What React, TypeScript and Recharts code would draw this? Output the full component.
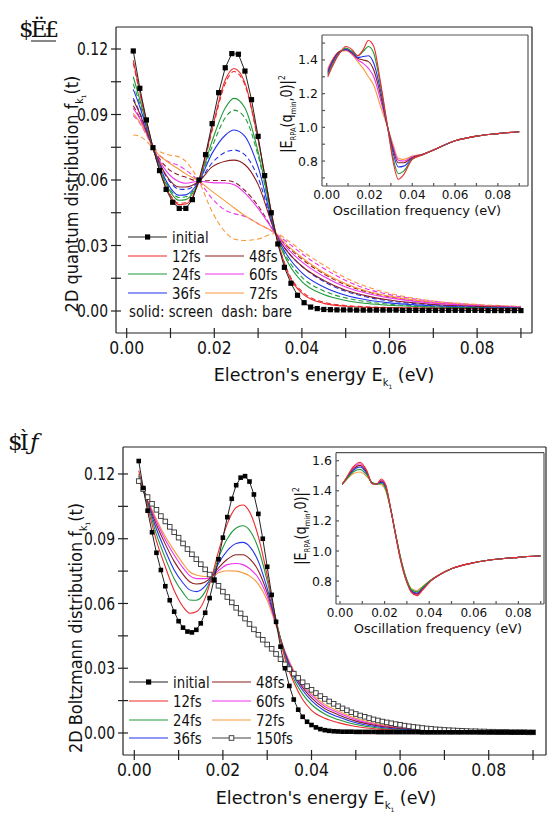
import React from 'react';
import { LineChart, Line, XAxis, YAxis } from 'recharts';

const FONT = "'DejaVu Sans', sans-serif";

const C12 = '#ee2b2b';
const C24 = '#1e9a3a';
const C36 = '#2233ee';
const C48 = '#8a1e1e';
const C60 = '#ee33ee';
const C72 = '#f79a3a';

// ---------- panel (a): quantum distribution ----------
const topMarkE = [
  0.0015, 0.003, 0.0045, 0.006, 0.0075, 0.009, 0.0105, 0.012, 0.0135, 0.015,
  0.0165, 0.018, 0.0195, 0.021, 0.0225, 0.024, 0.0255, 0.027, 0.0285, 0.03,
  0.0315, 0.033, 0.0345, 0.036, 0.0375, 0.039, 0.0405, 0.042, 0.0435, 0.045,
  0.0465, 0.048, 0.0495, 0.051, 0.0525, 0.054, 0.0555, 0.057, 0.0585, 0.06,
  0.0615, 0.063, 0.0645, 0.066, 0.0675, 0.069, 0.0705, 0.072, 0.0735, 0.075,
  0.0765, 0.078, 0.0795, 0.081, 0.0825, 0.084, 0.0855, 0.087, 0.0885, 0.09,
];
const topInitial = [
  0.1191, 0.102, 0.0875, 0.0748, 0.0643, 0.0557, 0.0498, 0.047, 0.047, 0.051,
  0.06, 0.0716, 0.0858, 0.1, 0.1114, 0.1179, 0.1176, 0.1099, 0.0968, 0.08,
  0.062, 0.045, 0.0307, 0.02, 0.0127, 0.0072, 0.0038, 0.0018, 0.0011, 0.0007,
  0.0006, 0.0005, 0.0005, 0.0005, 0.0004, 0.0004, 0.0004, 0.0004, 0.0004, 0.0004,
  0.0004, 0.0003, 0.0003, 0.0003, 0.0003, 0.0003, 0.0003, 0.0003, 0.0003, 0.0003,
  0.0003, 0.0003, 0.0003, 0.0003, 0.0002, 0.0002, 0.0002, 0.0002, 0.0002, 0.0002,
];

const topE = [
  0.0015, 0.003, 0.0045, 0.006, 0.009, 0.012, 0.0135, 0.0165, 0.0195, 0.0225,
  0.0245, 0.027, 0.03, 0.034, 0.037, 0.04, 0.045, 0.05, 0.055, 0.06, 0.07, 0.08, 0.09,
];
const top12Screen = [0.1148, 0.1003, 0.0868, 0.0748, 0.0566, 0.0487, 0.049, 0.0594, 0.0835, 0.1058, 0.1111, 0.1045, 0.0785, 0.036, 0.0165, 0.0082, 0.0035, 0.0022, 0.0017, 0.0015, 0.0012, 0.0011, 0.001];
const top12Bare = [0.1135, 0.0997, 0.0866, 0.0748, 0.057, 0.0493, 0.0496, 0.0594, 0.0825, 0.1042, 0.1097, 0.1035, 0.078, 0.0358, 0.0172, 0.009, 0.004, 0.0025, 0.0019, 0.0016, 0.0013, 0.0011, 0.001];
const top24Screen = [0.1073, 0.0968, 0.0855, 0.0748, 0.0582, 0.0507, 0.051, 0.0594, 0.0778, 0.093, 0.0974, 0.093, 0.073, 0.0357, 0.0215, 0.0135, 0.0075, 0.0048, 0.0034, 0.0026, 0.0018, 0.0014, 0.0012];
const top24Bare = [0.104, 0.0948, 0.0846, 0.0748, 0.059, 0.052, 0.0523, 0.0594, 0.0752, 0.0885, 0.092, 0.0885, 0.0712, 0.0357, 0.023, 0.0155, 0.0092, 0.006, 0.0042, 0.0031, 0.002, 0.0015, 0.0013];
const top36Screen = [0.1015, 0.0935, 0.084, 0.0748, 0.0597, 0.053, 0.0532, 0.0594, 0.0722, 0.0805, 0.0829, 0.08, 0.066, 0.0355, 0.0245, 0.0175, 0.011, 0.0072, 0.005, 0.0037, 0.0024, 0.0017, 0.0014];
const top36Bare = [0.0975, 0.0908, 0.0827, 0.0748, 0.0618, 0.0558, 0.0557, 0.0594, 0.0678, 0.0727, 0.0737, 0.0715, 0.061, 0.0355, 0.0265, 0.0205, 0.0135, 0.009, 0.0063, 0.0046, 0.0028, 0.002, 0.0015];
const top48Screen = [0.0966, 0.0903, 0.0824, 0.0748, 0.0622, 0.0568, 0.0568, 0.0594, 0.066, 0.0686, 0.0691, 0.067, 0.058, 0.0355, 0.0265, 0.0205, 0.014, 0.0095, 0.0068, 0.005, 0.003, 0.0021, 0.0016];
const top48Bare = [0.094, 0.0885, 0.0815, 0.0748, 0.066, 0.0622, 0.0613, 0.0594, 0.0598, 0.0598, 0.059, 0.0552, 0.0482, 0.0355, 0.029, 0.0238, 0.017, 0.012, 0.0087, 0.0065, 0.0038, 0.0025, 0.0019];
const top60Screen = [0.0928, 0.0882, 0.0818, 0.0748, 0.0642, 0.0592, 0.0585, 0.0594, 0.0588, 0.0586, 0.0578, 0.054, 0.047, 0.0355, 0.028, 0.0225, 0.0158, 0.011, 0.008, 0.006, 0.0036, 0.0024, 0.0018];
const top60Bare = [0.0895, 0.086, 0.0807, 0.0748, 0.069, 0.0665, 0.0645, 0.0594, 0.0515, 0.0462, 0.0446, 0.0433, 0.04, 0.0355, 0.031, 0.0262, 0.0195, 0.014, 0.01, 0.0075, 0.0044, 0.0028, 0.002];
const top72Screen = [0.0905, 0.0865, 0.081, 0.0748, 0.0688, 0.0648, 0.0628, 0.0594, 0.0548, 0.0503, 0.0473, 0.0437, 0.04, 0.0355, 0.0295, 0.0245, 0.0175, 0.0125, 0.009, 0.0068, 0.004, 0.0026, 0.0019];
const top72Bare = [0.0806, 0.08, 0.0778, 0.0748, 0.0718, 0.0705, 0.0685, 0.0594, 0.0455, 0.0362, 0.033, 0.0323, 0.033, 0.0355, 0.032, 0.0275, 0.021, 0.0152, 0.011, 0.0081, 0.0046, 0.003, 0.0021];

// inset (a): |eps_RPA(q_min, 0)|^2 vs oscillation frequency
const topInsetE = [0.0005, 0.003, 0.006, 0.009, 0.012, 0.0145, 0.017, 0.0195, 0.022, 0.025, 0.0285, 0.031, 0.0335, 0.036, 0.04, 0.045, 0.05, 0.06, 0.07, 0.08, 0.09];
const topInset12 = [1.3, 1.37, 1.44, 1.48, 1.46, 1.425, 1.46, 1.515, 1.48, 1.28, 1.0, 0.8, 0.692, 0.72, 0.81, 0.838, 0.866, 0.92, 0.948, 0.963, 0.974];
const topInset24 = [1.31, 1.38, 1.44, 1.47, 1.45, 1.425, 1.45, 1.48, 1.44, 1.26, 1.0, 0.82, 0.725, 0.74, 0.812, 0.838, 0.866, 0.92, 0.948, 0.963, 0.974];
const topInset36 = [1.32, 1.39, 1.445, 1.465, 1.445, 1.415, 1.42, 1.425, 1.38, 1.23, 1.0, 0.85, 0.765, 0.77, 0.815, 0.839, 0.866, 0.92, 0.948, 0.963, 0.974];
const topInset48 = [1.33, 1.4, 1.45, 1.462, 1.44, 1.41, 1.4, 1.39, 1.34, 1.2, 1.0, 0.87, 0.79, 0.79, 0.82, 0.84, 0.866, 0.92, 0.948, 0.963, 0.974];
const topInset60 = [1.34, 1.405, 1.45, 1.458, 1.435, 1.4, 1.38, 1.35, 1.3, 1.17, 1.0, 0.885, 0.805, 0.8, 0.825, 0.841, 0.867, 0.92, 0.948, 0.963, 0.974];
const topInset72 = [1.35, 1.41, 1.45, 1.455, 1.43, 1.39, 1.35, 1.3, 1.25, 1.13, 1.0, 0.9, 0.815, 0.81, 0.83, 0.842, 0.867, 0.92, 0.948, 0.963, 0.974];

// ---------- panel (b): Boltzmann distribution ----------
const botMarkE = [
  0.001, 0.002, 0.003, 0.004, 0.005, 0.006, 0.007, 0.008, 0.009, 0.01,
  0.011, 0.012, 0.013, 0.014, 0.015, 0.016, 0.017, 0.018, 0.019, 0.02,
  0.021, 0.022, 0.023, 0.024, 0.025, 0.026, 0.027, 0.028, 0.029, 0.03,
  0.031, 0.032, 0.033, 0.034, 0.035, 0.036, 0.037, 0.038, 0.039, 0.04,
  0.041, 0.042, 0.043, 0.044, 0.045, 0.046, 0.047, 0.048, 0.049, 0.05,
  0.051, 0.052, 0.053, 0.054, 0.055, 0.056, 0.057, 0.058, 0.059, 0.06,
  0.061, 0.062, 0.063, 0.064, 0.065, 0.066, 0.067, 0.068, 0.069, 0.07,
  0.071, 0.072, 0.073, 0.074, 0.075, 0.076, 0.077, 0.078, 0.079, 0.08,
  0.081, 0.082, 0.083, 0.084, 0.085, 0.086, 0.087, 0.088, 0.089, 0.09,
];
const botInitial = [
  0.126, 0.1135, 0.103, 0.093, 0.0835, 0.0755, 0.068, 0.0615, 0.0562, 0.0518,
  0.0488, 0.047, 0.0466, 0.0478, 0.0508, 0.0557, 0.0625, 0.071, 0.0805, 0.0905,
  0.1, 0.1085, 0.1148, 0.1183, 0.119, 0.1165, 0.1105, 0.1015, 0.09, 0.077,
  0.064, 0.0515, 0.04, 0.03, 0.0218, 0.0155, 0.0108, 0.0075, 0.0052, 0.0037,
  0.0026, 0.0018, 0.0013, 0.001, 0.0008, 0.0007, 0.0006, 0.0006, 0.0006, 0.0005,
  0.0005, 0.0005, 0.0005, 0.0005, 0.0004, 0.0004, 0.0004, 0.0004, 0.0004, 0.0004,
  0.0004, 0.0004, 0.0004, 0.0004, 0.0003, 0.0003, 0.0003, 0.0003, 0.0003, 0.0003,
  0.0003, 0.0003, 0.0003, 0.0003, 0.0003, 0.0003, 0.0003, 0.0003, 0.0003, 0.0003,
  0.0003, 0.0003, 0.0003, 0.0003, 0.0003, 0.0003, 0.0003, 0.0003, 0.0003, 0.0003,
];
const bot150 = [
  0.1167, 0.113, 0.1093, 0.1062, 0.1034, 0.1005, 0.098, 0.0955, 0.093, 0.0905,
  0.0878, 0.0852, 0.0828, 0.0805, 0.0782, 0.0758, 0.0734, 0.0708, 0.0682, 0.0655,
  0.063, 0.0605, 0.058, 0.0554, 0.053, 0.0505, 0.048, 0.0455, 0.0432, 0.041,
  0.039, 0.0366, 0.0342, 0.0318, 0.0296, 0.0275, 0.0255, 0.0235, 0.0217, 0.02,
  0.0185, 0.0171, 0.0158, 0.0146, 0.0135, 0.0124, 0.0114, 0.0105, 0.0096, 0.0088,
  0.0081, 0.0075, 0.0069, 0.0063, 0.0058, 0.0053, 0.0049, 0.0045, 0.0041, 0.0038,
  0.0034, 0.0031, 0.0028, 0.0026, 0.0023, 0.0021, 0.0019, 0.0017, 0.0016, 0.0014,
  0.0013, 0.0012, 0.0011, 0.001, 0.0009, 0.0008, 0.0008, 0.0007, 0.0007, 0.0006,
  0.0006, 0.0005, 0.0005, 0.0005, 0.0004, 0.0004, 0.0004, 0.0004, 0.0003, 0.0003,
];

const botE = [0.001, 0.003, 0.005, 0.007, 0.009, 0.011, 0.0125, 0.014, 0.016, 0.0175, 0.019, 0.021, 0.023, 0.0245, 0.026, 0.028, 0.03, 0.032, 0.034, 0.036, 0.038, 0.04, 0.043, 0.046, 0.05, 0.055, 0.06, 0.07, 0.09];
const bot12 = [0.1215, 0.105, 0.089, 0.077, 0.066, 0.0585, 0.0555, 0.0562, 0.0625, 0.0724, 0.084, 0.097, 0.1045, 0.1056, 0.1025, 0.091, 0.073, 0.052, 0.0345, 0.0235, 0.0155, 0.0105, 0.0068, 0.0048, 0.003, 0.0018, 0.0011, 0.0005, 0.0003];
const bot24 = [0.12, 0.106, 0.092, 0.081, 0.0715, 0.065, 0.0616, 0.0615, 0.0655, 0.0724, 0.081, 0.09, 0.095, 0.096, 0.094, 0.0855, 0.0705, 0.0525, 0.0355, 0.025, 0.018, 0.0132, 0.0088, 0.0062, 0.0039, 0.0023, 0.0014, 0.0006, 0.0003];
const bot36 = [0.119, 0.1065, 0.0945, 0.0845, 0.0755, 0.0695, 0.0663, 0.0655, 0.068, 0.0724, 0.0785, 0.0845, 0.0878, 0.0883, 0.0865, 0.0795, 0.067, 0.0515, 0.0365, 0.0265, 0.0198, 0.015, 0.0102, 0.0075, 0.0047, 0.0028, 0.0017, 0.0007, 0.0003];
const bot48 = [0.118, 0.107, 0.0965, 0.0875, 0.0795, 0.0735, 0.0701, 0.069, 0.07, 0.0724, 0.0765, 0.0805, 0.0826, 0.0826, 0.0808, 0.0752, 0.065, 0.051, 0.037, 0.0275, 0.021, 0.0163, 0.0113, 0.0085, 0.0055, 0.0033, 0.002, 0.0008, 0.0003];
const bot60 = [0.1175, 0.1075, 0.098, 0.0895, 0.0825, 0.0765, 0.0729, 0.0715, 0.0715, 0.0724, 0.0752, 0.078, 0.0785, 0.078, 0.0762, 0.0718, 0.0632, 0.0505, 0.0375, 0.0283, 0.022, 0.0174, 0.0123, 0.0094, 0.0062, 0.0037, 0.0023, 0.0009, 0.0003];
const bot72 = [0.117, 0.108, 0.099, 0.091, 0.0845, 0.0785, 0.0747, 0.0732, 0.0725, 0.0724, 0.0742, 0.0752, 0.075, 0.0742, 0.0728, 0.069, 0.0615, 0.0498, 0.038, 0.029, 0.023, 0.0183, 0.0132, 0.0102, 0.0068, 0.0041, 0.0026, 0.001, 0.0003];

const botInsetE = [0.001, 0.003, 0.006, 0.009, 0.012, 0.0145, 0.0165, 0.0185, 0.0205, 0.0225, 0.025, 0.027, 0.03, 0.032, 0.0345, 0.037, 0.04, 0.045, 0.05, 0.06, 0.07, 0.08, 0.09];
const botInset12 = [1.443, 1.49, 1.56, 1.59, 1.535, 1.445, 1.445, 1.478, 1.44, 1.3, 1.1, 0.95, 0.79, 0.725, 0.703, 0.74, 0.79, 0.845, 0.882, 0.922, 0.945, 0.958, 0.968];
const botInset24 = [1.443, 1.478, 1.526, 1.542, 1.505, 1.453, 1.445, 1.448, 1.41, 1.292, 1.108, 0.965, 0.805, 0.744, 0.729, 0.759, 0.798, 0.846, 0.882, 0.922, 0.945, 0.958, 0.968];
const botInset36 = [1.443, 1.481, 1.536, 1.558, 1.515, 1.451, 1.445, 1.456, 1.42, 1.294, 1.106, 0.961, 0.801, 0.739, 0.721, 0.753, 0.796, 0.846, 0.882, 0.922, 0.945, 0.958, 0.968];
const botInset48 = [1.443, 1.484, 1.544, 1.569, 1.521, 1.449, 1.445, 1.463, 1.427, 1.296, 1.104, 0.957, 0.797, 0.734, 0.715, 0.748, 0.794, 0.845, 0.882, 0.922, 0.945, 0.958, 0.968];
const botInset60 = [1.443, 1.487, 1.552, 1.58, 1.528, 1.447, 1.445, 1.47, 1.433, 1.298, 1.102, 0.953, 0.793, 0.729, 0.709, 0.744, 0.792, 0.845, 0.882, 0.922, 0.945, 0.958, 0.968];
const botInset72 = [1.443, 1.475, 1.515, 1.525, 1.495, 1.455, 1.445, 1.44, 1.4, 1.29, 1.11, 0.97, 0.81, 0.75, 0.738, 0.765, 0.8, 0.847, 0.882, 0.922, 0.945, 0.958, 0.968];

// ---------- tick positions ----------
const mainXTicks = [0, 0.01, 0.02, 0.03, 0.04, 0.05, 0.06, 0.07, 0.08, 0.09];
const mainYTicks = [0, 0.015, 0.03, 0.045, 0.06, 0.075, 0.09, 0.105, 0.12];
const insetXTicks = [0, 0.01, 0.02, 0.03, 0.04, 0.05, 0.06, 0.07, 0.08, 0.09];
const topInsetYTicks = [0.7, 0.8, 0.9, 1.0, 1.1, 1.2, 1.3, 1.4, 1.5];
const botInsetYTicks = [0.7, 0.8, 0.9, 1.0, 1.1, 1.2, 1.3, 1.4, 1.5, 1.6];

const rows = (xs: number[], ys: number[]) => xs.map((e, i) => ({ e, f: ys[i] }));

const FilledSquare = (props: any) => {
  const { cx, cy, index } = props;
  if (cx == null || cy == null) return <g key={index} />;
  return <rect key={index} x={cx - 2.6} y={cy - 2.6} width={5.2} height={5.2} fill="#000" />;
};
const SmallSquare = (props: any) => {
  const { cx, cy, index } = props;
  if (cx == null || cy == null) return <g key={index} />;
  return <rect key={index} x={cx - 2.3} y={cy - 2.3} width={4.6} height={4.6} fill="#000" />;
};
const OpenSquare = (props: any) => {
  const { cx, cy, index } = props;
  if (cx == null || cy == null) return <g key={index} />;
  return <rect key={index} x={cx - 2.3} y={cy - 2.3} width={4.6} height={4.6} fill="#fff" stroke="#333" strokeWidth={0.9} />;
};

// Text squeezed horizontally (the figure's lettering is narrow).
function NarrowText({ x, y, size, sx = 1, anchor = 'start', rotate = 0, dy = 0, children, italic }: {
  x: number; y: number; size: number; sx?: number; anchor?: 'start' | 'middle' | 'end'; rotate?: number; dy?: number;
  children: React.ReactNode; italic?: boolean;
}) {
  return (
    <text transform={`translate(${x},${y}) rotate(${rotate}) scale(${sx},1)`} dy={dy} textAnchor={anchor}
      fontSize={size} fontFamily={FONT} fill="#111" fontStyle={italic ? 'italic' : undefined}>
      {children}
    </text>
  );
}

function makeTick(fmt: (v: number) => string, size: number, sx: number, side: 'bottom' | 'left') {
  return (props: any) => {
    const { x, y, payload } = props;
    const s = fmt(payload.value);
    if (!s) return <g />;
    return side === 'bottom'
      ? <NarrowText x={x} y={y} size={size} sx={sx} anchor="middle" dy={size * 0.76}>{s}</NarrowText>
      : <NarrowText x={x} y={y} size={size} sx={sx} anchor="end" dy={size * 0.36}>{s}</NarrowText>;
  };
}

type AxisOpts = {
  xDomain: [number, number];
  yDomain: [number, number];
  xTicks: number[];
  yTicks: number[];
  xFmt: (v: number) => string;
  yFmt: (v: number) => string;
  xSize: number; xSx: number;
  ySize: number; ySx: number;
  tickIn: number;
  tickOut: number;
  xMargin: number;
  yMargin: number;
  yWidth: number;
  xHeight: number;
  frame: string;
};

// Axes for a fully boxed plot: labelled bottom/left axes with outward ticks,
// mirrored copies carrying the inward ticks, and plain top/right frame lines.
function boxAxes(o: AxisOpts) {
  const line = { stroke: o.frame, strokeWidth: 1.2 };
  const blank = () => '';
  return [
    <XAxis key="xb" xAxisId="b" dataKey="e" type="number" domain={o.xDomain} allowDataOverflow ticks={o.xTicks}
      tick={makeTick(o.xFmt, o.xSize, o.xSx, 'bottom')} tickSize={o.tickOut} tickMargin={o.xMargin}
      axisLine={line} tickLine={o.tickOut > 0 ? line : false} height={o.xHeight} interval={0} />,
    <XAxis key="xi" xAxisId="bi" dataKey="e" type="number" domain={o.xDomain} allowDataOverflow ticks={o.xTicks}
      tickFormatter={blank} mirror tickSize={o.tickIn} axisLine={false} tickLine={line} height={o.xHeight} interval={0} />,
    <XAxis key="xt" xAxisId="t" orientation="top" dataKey="e" type="number" domain={o.xDomain} allowDataOverflow ticks={o.xTicks}
      tickFormatter={blank} mirror tickLine={false} axisLine={line} height={10} interval={0} />,
    <YAxis key="yl" yAxisId="l" type="number" domain={o.yDomain} allowDataOverflow ticks={o.yTicks}
      tick={makeTick(o.yFmt, o.ySize, o.ySx, 'left')} tickSize={o.tickOut} tickMargin={o.yMargin}
      axisLine={line} tickLine={o.tickOut > 0 ? line : false} width={o.yWidth} interval={0} />,
    <YAxis key="yi" yAxisId="li" type="number" domain={o.yDomain} allowDataOverflow ticks={o.yTicks}
      tickFormatter={blank} mirror tickSize={o.tickIn} axisLine={false} tickLine={line} width={o.yWidth} interval={0} />,
    <YAxis key="yr" yAxisId="r" orientation="right" type="number" domain={o.yDomain} allowDataOverflow ticks={o.yTicks}
      tickFormatter={blank} mirror tickLine={false} axisLine={line} width={10} interval={0} />,
  ];
}

const evenHundredth = (v: number) => (Math.round(v * 100) % 2 === 0 ? v.toFixed(2) : '');
const mainYFmt = (v: number) => (Math.round(v / 0.015) % 2 === 0 ? v.toFixed(2) : '');
const insetYFmt = (v: number) => (Math.round(v * 10) % 2 === 0 ? v.toFixed(1) : '');

function series(key: string, xs: number[], ys: number[], color: string, dashed = false) {
  return (
    <Line key={key} xAxisId="b" yAxisId="l" data={rows(xs, ys)} dataKey="f" type="monotone" stroke={color}
      strokeWidth={1.1} strokeDasharray={dashed ? '5 3' : undefined} dot={false} isAnimationActive={false} />
  );
}

const posStyle = (left: number, top: number): React.CSSProperties => ({ position: 'absolute', left, top });

const LEG_SIZE = 15.5;
const LEG_SX = 0.86;

function LegendRow({ x, y, color, label, marker }: { x: number; y: number; color: string; label: string; marker?: 'filled' | 'open' }) {
  return (
    <g>
      <line x1={x} y1={y} x2={x + 39} y2={y} stroke={color} strokeWidth={1.1} />
      {marker === 'filled' && <rect x={x + 17} y={y - 2.6} width={5.2} height={5.2} fill="#000" />}
      {marker === 'open' && <rect x={x + 17.2} y={y - 2.3} width={4.6} height={4.6} fill="#fff" stroke="#333" strokeWidth={0.9} />}
      <NarrowText x={x + 44} y={y + 5.5} size={LEG_SIZE} sx={LEG_SX}>{label}</NarrowText>
    </g>
  );
}

function EnergyTitle({ cx, y }: { cx: number; y: number }) {
  return (
    <text x={cx} y={y} textAnchor="middle" fontSize={17.5} fontFamily={FONT} fill="#111">
      Electron's energy E<tspan fontSize={10} dy={5}>k</tspan><tspan fontSize={6} dy={3}>1</tspan>
      <tspan dy={-8}> (eV)</tspan>
    </text>
  );
}

function DistTitle({ x, cy, text }: { x: number; cy: number; text: string }) {
  return (
    <NarrowText x={x} y={cy} rotate={-90} size={17} sx={0.95} anchor="middle">
      {text} f<tspan fontSize={10} dy={5}>k</tspan><tspan fontSize={6} dy={3}>1</tspan>
      <tspan dy={-8}>(t)</tspan>
    </NarrowText>
  );
}

function EpsTitle({ x, cy }: { x: number; cy: number }) {
  return (
    <NarrowText x={x} y={cy} rotate={-90} size={15} sx={0.85} anchor="middle">
      |E<tspan fontSize={8} dy={4}>RPA</tspan><tspan dy={-4}>(q</tspan><tspan fontSize={8} dy={4}>min</tspan>
      <tspan dy={-4}>,0)|</tspan><tspan fontSize={9} dy={-7}>2</tspan>
    </NarrowText>
  );
}

export default function App() {
  const W = 548;
  const mainText = { xSize: 17, xSx: 0.92, ySize: 17, ySx: 0.82 };
  const insetText = { xSize: 12, xSx: 1, ySize: 12.5, ySx: 1 };
  const topMainAxes = boxAxes({
    xDomain: [-0.00244, 0.09253], yDomain: [-0.01008, 0.13008], xTicks: mainXTicks, yTicks: mainYTicks,
    xFmt: evenHundredth, yFmt: mainYFmt, ...mainText, tickIn: 5, tickOut: 5, xMargin: 3, yMargin: 3,
    yWidth: 60, xHeight: 30, frame: '#222',
  });
  const topInsetAxes = boxAxes({
    xDomain: [-0.0022, 0.0941], yDomain: [0.652, 1.548], xTicks: insetXTicks, yTicks: topInsetYTicks,
    xFmt: evenHundredth, yFmt: insetYFmt, ...insetText, tickIn: 3, tickOut: 0, xMargin: 4, yMargin: 4,
    yWidth: 40, xHeight: 20, frame: '#555',
  });
  const botMainAxes = boxAxes({
    xDomain: [-0.00255, 0.09293], yDomain: [-0.0102, 0.1325], xTicks: mainXTicks, yTicks: mainYTicks,
    xFmt: evenHundredth, yFmt: mainYFmt, ...mainText, tickIn: 5, tickOut: 5, xMargin: 3, yMargin: 3,
    yWidth: 60, xHeight: 30, frame: '#222',
  });
  const botInsetAxes = boxAxes({
    xDomain: [-0.00179, 0.09148], yDomain: [0.648, 1.653], xTicks: insetXTicks, yTicks: botInsetYTicks,
    xFmt: evenHundredth, yFmt: insetYFmt, ...insetText, tickIn: 3, tickOut: 0, xMargin: 4, yMargin: 4,
    yWidth: 40, xHeight: 20, frame: '#555',
  });

  return (
    <div style={{ position: 'absolute', left: 0, top: 0, width: W, height: 817, background: '#fff', overflow: 'hidden' }}>
      {/* (a) main */}
      <div style={posStyle(0, 0)}>
        <LineChart width={W} height={400} margin={{ left: 56, top: 27, right: 16, bottom: 37 }}>
          {topMainAxes}
          {series('t72b', topE, top72Bare, C72, true)}
          {series('t60b', topE, top60Bare, C60, true)}
          {series('t48b', topE, top48Bare, C48, true)}
          {series('t36b', topE, top36Bare, C36, true)}
          {series('t24b', topE, top24Bare, C24, true)}
          {series('t12b', topE, top12Bare, C12, true)}
          {series('t72s', topE, top72Screen, C72)}
          {series('t60s', topE, top60Screen, C60)}
          {series('t48s', topE, top48Screen, C48)}
          {series('t36s', topE, top36Screen, C36)}
          {series('t24s', topE, top24Screen, C24)}
          {series('t12s', topE, top12Screen, C12)}
          <Line xAxisId="b" yAxisId="l" data={rows(topMarkE, topInitial)} dataKey="f" type="linear" stroke="#222"
            strokeWidth={1} dot={FilledSquare} isAnimationActive={false} />
        </LineChart>
      </div>
      {/* (a) inset */}
      <div style={posStyle(0, 0)}>
        <LineChart width={W} height={400} margin={{ left: 282, top: 35, right: 20, bottom: 194 }}>
          {topInsetAxes}
          {series('i72', topInsetE, topInset72, C72)}
          {series('i60', topInsetE, topInset60, C60)}
          {series('i48', topInsetE, topInset48, C48)}
          {series('i36', topInsetE, topInset36, C36)}
          {series('i24', topInsetE, topInset24, C24)}
          {series('i12', topInsetE, topInset12, C12)}
        </LineChart>
      </div>
      {/* (b) main */}
      <div style={posStyle(0, 400)}>
        <LineChart width={W} height={417} margin={{ left: 63, top: 47, right: 2, bottom: 32 }}>
          {botMainAxes}
          {series('b72', botE, bot72, C72)}
          {series('b60', botE, bot60, C60)}
          {series('b48', botE, bot48, C48)}
          {series('b36', botE, bot36, C36)}
          {series('b24', botE, bot24, C24)}
          {series('b12', botE, bot12, C12)}
          <Line xAxisId="b" yAxisId="l" data={rows(botMarkE, bot150)} dataKey="f" type="linear" stroke="#444"
            strokeWidth={1} dot={OpenSquare} isAnimationActive={false} />
          <Line xAxisId="b" yAxisId="l" data={rows(botMarkE, botInitial)} dataKey="f" type="linear" stroke="#222"
            strokeWidth={1} dot={SmallSquare} isAnimationActive={false} />
        </LineChart>
      </div>
      {/* (b) inset */}
      <div style={posStyle(0, 400)}>
        <LineChart width={W} height={417} margin={{ left: 296, top: 52.7, right: 4, bottom: 193 }}>
          {botInsetAxes}
          {series('j72', botInsetE, botInset72, C72)}
          {series('j60', botInsetE, botInset60, C60)}
          {series('j48', botInsetE, botInset48, C48)}
          {series('j36', botInsetE, botInset36, C36)}
          {series('j24', botInsetE, botInset24, C24)}
          {series('j12', botInsetE, botInset12, C12)}
        </LineChart>
      </div>

      {/* titles, legends and panel marks */}
      <svg width={W} height={817} style={{ position: 'absolute', left: 0, top: 0, pointerEvents: 'none' }}>
        <text x={19} y={37} fontSize={23} fontFamily="'DejaVu Serif', serif" fill="#111" letterSpacing={-3}>$Ë£</text>
        <line x1={31} y1={41} x2={56} y2={41} stroke="#111" strokeWidth={1} />
        <text x={8} y={450} fontSize={23} fontFamily="'DejaVu Serif', serif" fill="#111" letterSpacing={-3}>$Ì <tspan fontStyle="italic">ƒ</tspan></text>

        <EnergyTitle cx={324} y={381} />
        <DistTitle x={78} cy={194} text="2D quantum distribution" />
        <text x={417} y={215} textAnchor="middle" fontSize={13} fontFamily={FONT} fill="#111">Oscillation frequency (eV)</text>
        <EpsTitle x={292} cy={114} />

        <EnergyTitle cx={326} y={804} />
        <DistTitle x={82} cy={628} text="2D Boltzmann distribution" />
        <text x={438} y={633} textAnchor="middle" fontSize={13} fontFamily={FONT} fill="#111">Oscillation frequency (eV)</text>
        <EpsTitle x={306} cy={526} />

        {/* legend (a) */}
        <LegendRow x={128} y={237} color="#222" label="initial" marker="filled" />
        <LegendRow x={128} y={256} color={C12} label="12fs" />
        <LegendRow x={128} y={274} color={C24} label="24fs" />
        <LegendRow x={128} y={293} color={C36} label="36fs" />
        <LegendRow x={205} y={256} color={C48} label="48fs" />
        <LegendRow x={205} y={274} color={C60} label="60fs" />
        <LegendRow x={205} y={293} color={C72} label="72fs" />
        <NarrowText x={129} y={317} size={LEG_SIZE} sx={LEG_SX}>{'solid: screen\u00a0 dash: bare'}</NarrowText>

        {/* legend (b) */}
        <LegendRow x={129} y={682} color="#222" label="initial" marker="filled" />
        <LegendRow x={129} y={701} color={C12} label="12fs" />
        <LegendRow x={129} y={720} color={C24} label="24fs" />
        <LegendRow x={129} y={738} color={C36} label="36fs" />
        <LegendRow x={212} y={682} color={C48} label="48fs" />
        <LegendRow x={212} y={701} color={C60} label="60fs" />
        <LegendRow x={212} y={720} color={C72} label="72fs" />
        <LegendRow x={212} y={738} color="#444" label="150fs" marker="open" />
      </svg>
    </div>
  );
}
